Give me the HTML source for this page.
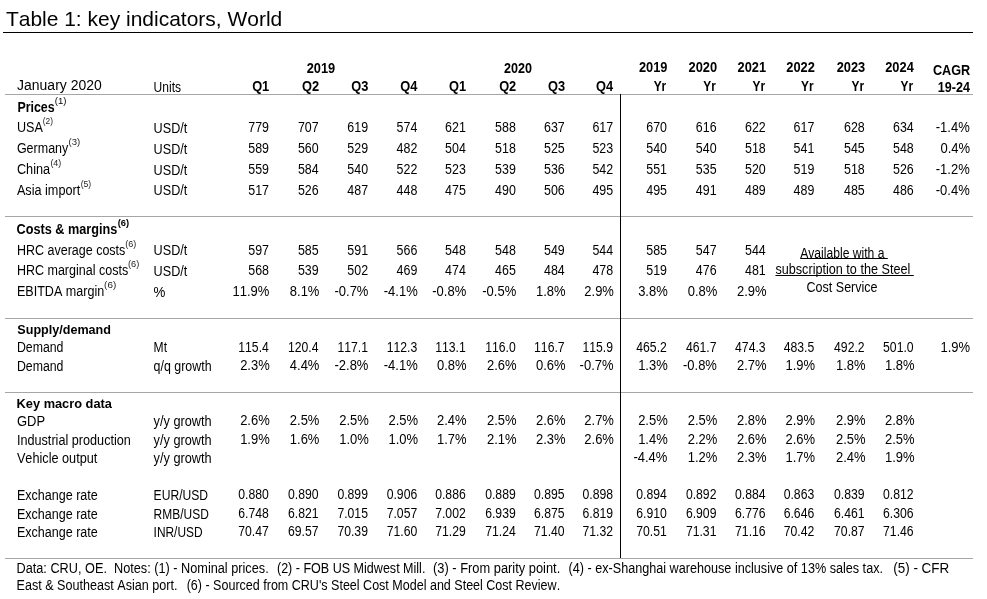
<!DOCTYPE html>
<html><head><meta charset="utf-8"><title>Table 1: key indicators, World</title>
<style>
html,body{margin:0;padding:0;background:#fff;}
body{width:987px;height:599px;overflow:hidden;font-family:"Liberation Sans",sans-serif;color:#000;}
#w{position:relative;width:987px;height:599px;overflow:hidden;will-change:transform;}
.t{position:absolute;white-space:pre;display:block;font-kerning:none;}
.l{position:absolute;}
</style></head>
<body>
<div id="w">
<div class="l" style="left:3px;top:32px;width:970px;height:1px;background:#000;"></div>
<div class="l" style="left:5px;top:94px;width:968px;height:1px;background:#a6a6a6;"></div>
<div class="l" style="left:5px;top:216px;width:968px;height:1px;background:#a6a6a6;"></div>
<div class="l" style="left:5px;top:318px;width:968px;height:1px;background:#a6a6a6;"></div>
<div class="l" style="left:5px;top:392px;width:968px;height:1px;background:#a6a6a6;"></div>
<div class="l" style="left:5px;top:558px;width:968px;height:1px;background:#a6a6a6;"></div>
<div class="l" style="left:620px;top:94px;width:1px;height:464px;background:#000;"></div>
<span class="t" style="left:5px;top:6px;font-size:20.8px;line-height:25px;transform:translateX(0.90px) scaleX(1.0087);transform-origin:0 0;">Table 1: key indicators, World</span>
<span class="t" style="left:17px;top:75px;font-size:14px;line-height:20px;transform:translateX(0.10px) scaleX(0.9970);transform-origin:0 0;">January 2020</span>
<span class="t" style="left:153px;top:77px;font-size:13.8px;line-height:21px;transform:translateX(0.60px) scaleX(0.8730);transform-origin:0 0;">Units</span>
<span class="t" style="right:718px;top:76px;font-size:13.8px;line-height:21px;font-weight:bold;transform:translateX(-0.15px) scaleX(0.9300);transform-origin:100% 0;">Q1</span>
<span class="t" style="right:668px;top:76px;font-size:13.8px;line-height:21px;font-weight:bold;transform:translateX(-0.36px) scaleX(0.9300);transform-origin:100% 0;">Q2</span>
<span class="t" style="right:618px;top:76px;font-size:13.8px;line-height:21px;font-weight:bold;transform:translateX(-0.96px) scaleX(0.9300);transform-origin:100% 0;">Q3</span>
<span class="t" style="right:570px;top:76px;font-size:13.8px;line-height:21px;font-weight:bold;transform:translateX(-0.12px) scaleX(0.9300);transform-origin:100% 0;">Q4</span>
<span class="t" style="right:521px;top:76px;font-size:13.8px;line-height:21px;font-weight:bold;transform:translateX(-0.25px) scaleX(0.9300);transform-origin:100% 0;">Q1</span>
<span class="t" style="right:471px;top:76px;font-size:13.8px;line-height:21px;font-weight:bold;transform:translateX(-0.16px) scaleX(0.9300);transform-origin:100% 0;">Q2</span>
<span class="t" style="right:422px;top:76px;font-size:13.8px;line-height:21px;font-weight:bold;transform:translateX(-0.26px) scaleX(0.9300);transform-origin:100% 0;">Q3</span>
<span class="t" style="right:374px;top:76px;font-size:13.8px;line-height:21px;font-weight:bold;transform:translateX(-0.32px) scaleX(0.9300);transform-origin:100% 0;">Q4</span>
<span class="t" style="left:306px;top:58px;font-size:13.8px;line-height:21px;font-weight:bold;transform:translateX(0.73px) scaleX(0.9288);transform-origin:0 0;">2019</span>
<span class="t" style="left:503px;top:58px;font-size:13.8px;line-height:21px;font-weight:bold;transform:translateX(0.94px) scaleX(0.9120);transform-origin:0 0;">2020</span>
<span class="t" style="right:319px;top:57px;font-size:13.8px;line-height:21px;font-weight:bold;transform:translateX(-0.26px) scaleX(0.9300);transform-origin:100% 0;">2019</span>
<span class="t" style="right:320px;top:76px;font-size:13.8px;line-height:21px;font-weight:bold;transform:translateX(-0.35px) scaleX(0.8600);transform-origin:100% 0;">Yr</span>
<span class="t" style="right:269px;top:57px;font-size:13.8px;line-height:21px;font-weight:bold;transform:translateX(-0.66px) scaleX(0.9300);transform-origin:100% 0;">2020</span>
<span class="t" style="right:270px;top:76px;font-size:13.8px;line-height:21px;font-weight:bold;transform:translateX(-0.75px) scaleX(0.8600);transform-origin:100% 0;">Yr</span>
<span class="t" style="right:220px;top:57px;font-size:13.8px;line-height:21px;font-weight:bold;transform:translateX(-0.55px) scaleX(0.9300);transform-origin:100% 0;">2021</span>
<span class="t" style="right:221px;top:76px;font-size:13.8px;line-height:21px;font-weight:bold;transform:translateX(-0.55px) scaleX(0.8600);transform-origin:100% 0;">Yr</span>
<span class="t" style="right:171px;top:57px;font-size:13.8px;line-height:21px;font-weight:bold;transform:translateX(-0.86px) scaleX(0.9300);transform-origin:100% 0;">2022</span>
<span class="t" style="right:172px;top:76px;font-size:13.8px;line-height:21px;font-weight:bold;transform:translateX(-0.95px) scaleX(0.8600);transform-origin:100% 0;">Yr</span>
<span class="t" style="right:121px;top:57px;font-size:13.8px;line-height:21px;font-weight:bold;transform:translateX(-0.46px) scaleX(0.9300);transform-origin:100% 0;">2023</span>
<span class="t" style="right:122px;top:76px;font-size:13.8px;line-height:21px;font-weight:bold;transform:translateX(-0.55px) scaleX(0.8600);transform-origin:100% 0;">Yr</span>
<span class="t" style="right:72px;top:57px;font-size:13.8px;line-height:21px;font-weight:bold;transform:translateX(-0.92px) scaleX(0.9300);transform-origin:100% 0;">2024</span>
<span class="t" style="right:73px;top:76px;font-size:13.8px;line-height:21px;font-weight:bold;transform:translateX(-0.55px) scaleX(0.8600);transform-origin:100% 0;">Yr</span>
<span class="t" style="left:932px;top:60px;font-size:13.8px;line-height:21px;font-weight:bold;transform:translateX(0.94px) scaleX(0.9181);transform-origin:0 0;">CAGR</span>
<span class="t" style="left:937px;top:77px;font-size:13.8px;line-height:21px;font-weight:bold;transform:translateX(0.77px) scaleX(0.9125);transform-origin:0 0;">19-24</span>
<span class="t" style="left:17px;top:97px;font-size:13.8px;line-height:21px;font-weight:bold;transform:translateX(0.40px) scaleX(0.8985);transform-origin:0 0;">Prices</span>
<span class="t" style="left:54px;top:95px;font-size:8.5px;line-height:12px;transform:translateX(0.84px) scaleX(1.1208);transform-origin:0 0;">(1)</span>
<span class="t" style="left:16px;top:117px;font-size:13.8px;line-height:21px;transform:translateX(0.90px) scaleX(0.9129);transform-origin:0 0;">USA</span>
<span class="t" style="left:42px;top:115px;font-size:8.5px;line-height:12px;color:#222;transform:translateX(0.81px) scaleX(0.9833);transform-origin:0 0;">(2)</span>
<span class="t" style="left:16px;top:138px;font-size:13.8px;line-height:21px;transform:translateX(0.90px) scaleX(0.9057);transform-origin:0 0;">Germany</span>
<span class="t" style="left:68px;top:136px;font-size:8.5px;line-height:12px;color:#222;transform:translateX(0.53px) scaleX(1.1313);transform-origin:0 0;">(3)</span>
<span class="t" style="left:16px;top:159px;font-size:13.8px;line-height:21px;transform:translateX(0.90px) scaleX(0.9229);transform-origin:0 0;">China</span>
<span class="t" style="left:50px;top:157px;font-size:8.5px;line-height:12px;color:#222;transform:translateX(0.38px) scaleX(1.0468);transform-origin:0 0;">(4)</span>
<span class="t" style="left:16px;top:180px;font-size:13.8px;line-height:21px;transform:translateX(0.90px) scaleX(0.9176);transform-origin:0 0;">Asia import</span>
<span class="t" style="left:80px;top:178px;font-size:8.5px;line-height:12px;color:#222;transform:translateX(0.69px) scaleX(1.0150);transform-origin:0 0;">(5)</span>
<span class="t" style="left:16px;top:219px;font-size:13.8px;line-height:21px;font-weight:bold;transform:translateX(0.60px) scaleX(0.9177);transform-origin:0 0;">Costs &amp; margins</span>
<span class="t" style="left:117px;top:217px;font-size:8.5px;line-height:12px;font-weight:bold;transform:translateX(0.76px) scaleX(1.0976);transform-origin:0 0;">(6)</span>
<span class="t" style="left:16px;top:240px;font-size:13.8px;line-height:21px;transform:translateX(0.90px) scaleX(0.9065);transform-origin:0 0;">HRC average costs</span>
<span class="t" style="left:125px;top:238px;font-size:8.5px;line-height:12px;color:#222;transform:translateX(0.27px) scaleX(1.0573);transform-origin:0 0;">(6)</span>
<span class="t" style="left:16px;top:260px;font-size:13.8px;line-height:21px;transform:translateX(0.90px) scaleX(0.9068);transform-origin:0 0;">HRC marginal costs</span>
<span class="t" style="left:127px;top:258px;font-size:8.5px;line-height:12px;color:#222;transform:translateX(0.96px) scaleX(1.0890);transform-origin:0 0;">(6)</span>
<span class="t" style="left:16px;top:281px;font-size:13.8px;line-height:21px;transform:translateX(0.90px) scaleX(0.9107);transform-origin:0 0;">EBITDA margin</span>
<span class="t" style="left:104px;top:279px;font-size:8.5px;line-height:12px;color:#222;transform:translateX(0.12px) scaleX(1.1631);transform-origin:0 0;">(6)</span>
<span class="t" style="left:17px;top:319px;font-size:12.8px;line-height:21px;font-weight:bold;transform:translateX(0.30px) scaleX(0.9833);transform-origin:0 0;">Supply/demand</span>
<span class="t" style="left:16px;top:337px;font-size:13.8px;line-height:21px;transform:translateX(0.90px) scaleX(0.8930);transform-origin:0 0;">Demand</span>
<span class="t" style="left:16px;top:356px;font-size:13.8px;line-height:21px;transform:translateX(0.90px) scaleX(0.8930);transform-origin:0 0;">Demand</span>
<span class="t" style="left:16px;top:393px;font-size:12.8px;line-height:21px;font-weight:bold;transform:translateX(0.60px) scaleX(0.9999);transform-origin:0 0;">Key macro data</span>
<span class="t" style="left:16px;top:411px;font-size:13.8px;line-height:21px;transform:translateX(0.90px) scaleX(0.9418);transform-origin:0 0;">GDP</span>
<span class="t" style="left:16px;top:430px;font-size:13.8px;line-height:21px;transform:translateX(0.90px) scaleX(0.9173);transform-origin:0 0;">Industrial production</span>
<span class="t" style="left:16px;top:448px;font-size:13.8px;line-height:21px;transform:translateX(0.90px) scaleX(0.9196);transform-origin:0 0;">Vehicle output</span>
<span class="t" style="left:16px;top:485px;font-size:13.8px;line-height:21px;transform:translateX(0.90px) scaleX(0.9093);transform-origin:0 0;">Exchange rate</span>
<span class="t" style="left:16px;top:504px;font-size:13.8px;line-height:21px;transform:translateX(0.90px) scaleX(0.9093);transform-origin:0 0;">Exchange rate</span>
<span class="t" style="left:16px;top:522px;font-size:13.8px;line-height:21px;transform:translateX(0.90px) scaleX(0.9093);transform-origin:0 0;">Exchange rate</span>
<span class="t" style="left:153px;top:118px;font-size:13.8px;line-height:21px;transform:translateX(0.60px) scaleX(0.9165);transform-origin:0 0;">USD/t</span>
<span class="t" style="left:153px;top:139px;font-size:13.8px;line-height:21px;transform:translateX(0.60px) scaleX(0.9165);transform-origin:0 0;">USD/t</span>
<span class="t" style="left:153px;top:160px;font-size:13.8px;line-height:21px;transform:translateX(0.60px) scaleX(0.9165);transform-origin:0 0;">USD/t</span>
<span class="t" style="left:153px;top:180px;font-size:13.8px;line-height:21px;transform:translateX(0.60px) scaleX(0.9165);transform-origin:0 0;">USD/t</span>
<span class="t" style="left:153px;top:240px;font-size:13.8px;line-height:21px;transform:translateX(0.60px) scaleX(0.9165);transform-origin:0 0;">USD/t</span>
<span class="t" style="left:153px;top:261px;font-size:13.8px;line-height:21px;transform:translateX(0.60px) scaleX(0.9165);transform-origin:0 0;">USD/t</span>
<span class="t" style="left:153px;top:282px;font-size:13.8px;line-height:21px;transform:translateX(0.60px) scaleX(0.9661);transform-origin:0 0;">%</span>
<span class="t" style="left:153px;top:337px;font-size:13.8px;line-height:21px;transform:translateX(0.60px) scaleX(0.8761);transform-origin:0 0;">Mt</span>
<span class="t" style="left:153px;top:356px;font-size:13.8px;line-height:21px;transform:translateX(0.60px) scaleX(0.8999);transform-origin:0 0;">q/q growth</span>
<span class="t" style="left:153px;top:411px;font-size:13.8px;line-height:21px;transform:translateX(0.60px) scaleX(0.9224);transform-origin:0 0;">y/y growth</span>
<span class="t" style="left:153px;top:430px;font-size:13.8px;line-height:21px;transform:translateX(0.60px) scaleX(0.9224);transform-origin:0 0;">y/y growth</span>
<span class="t" style="left:153px;top:448px;font-size:13.8px;line-height:21px;transform:translateX(0.60px) scaleX(0.9224);transform-origin:0 0;">y/y growth</span>
<span class="t" style="left:153px;top:485px;font-size:13.8px;line-height:21px;transform:translateX(0.60px) scaleX(0.8775);transform-origin:0 0;">EUR/USD</span>
<span class="t" style="left:153px;top:504px;font-size:13.8px;line-height:21px;transform:translateX(0.60px) scaleX(0.8673);transform-origin:0 0;">RMB/USD</span>
<span class="t" style="left:153px;top:522px;font-size:13.8px;line-height:21px;transform:translateX(0.60px) scaleX(0.8634);transform-origin:0 0;">INR/USD</span>
<span class="t" style="right:718px;top:117px;font-size:13.8px;line-height:21px;transform:translateX(-0.08px) scaleX(0.9000);transform-origin:100% 0;">779</span>
<span class="t" style="right:668px;top:117px;font-size:13.8px;line-height:21px;transform:translateX(-0.38px) scaleX(0.9000);transform-origin:100% 0;">707</span>
<span class="t" style="right:618px;top:117px;font-size:13.8px;line-height:21px;transform:translateX(-0.98px) scaleX(0.9000);transform-origin:100% 0;">619</span>
<span class="t" style="right:569px;top:117px;font-size:13.8px;line-height:21px;transform:translateX(-0.68px) scaleX(0.9000);transform-origin:100% 0;">574</span>
<span class="t" style="right:521px;top:117px;font-size:13.8px;line-height:21px;transform:translateX(-0.18px) scaleX(0.9000);transform-origin:100% 0;">621</span>
<span class="t" style="right:471px;top:117px;font-size:13.8px;line-height:21px;transform:translateX(-0.18px) scaleX(0.9000);transform-origin:100% 0;">588</span>
<span class="t" style="right:422px;top:117px;font-size:13.8px;line-height:21px;transform:translateX(-0.28px) scaleX(0.9000);transform-origin:100% 0;">637</span>
<span class="t" style="right:373px;top:117px;font-size:13.8px;line-height:21px;transform:translateX(-0.88px) scaleX(0.9000);transform-origin:100% 0;">617</span>
<span class="t" style="right:320px;top:117px;font-size:13.8px;line-height:21px;transform:translateX(-0.08px) scaleX(0.9000);transform-origin:100% 0;">670</span>
<span class="t" style="right:270px;top:117px;font-size:13.8px;line-height:21px;transform:translateX(-0.48px) scaleX(0.9000);transform-origin:100% 0;">616</span>
<span class="t" style="right:221px;top:117px;font-size:13.8px;line-height:21px;transform:translateX(-0.28px) scaleX(0.9000);transform-origin:100% 0;">622</span>
<span class="t" style="right:172px;top:117px;font-size:13.8px;line-height:21px;transform:translateX(-0.68px) scaleX(0.9000);transform-origin:100% 0;">617</span>
<span class="t" style="right:122px;top:117px;font-size:13.8px;line-height:21px;transform:translateX(-0.28px) scaleX(0.9000);transform-origin:100% 0;">628</span>
<span class="t" style="right:73px;top:117px;font-size:13.8px;line-height:21px;transform:translateX(-0.28px) scaleX(0.9000);transform-origin:100% 0;">634</span>
<span class="t" style="right:17px;top:117px;font-size:13.8px;line-height:21px;transform:translateX(-0.36px) scaleX(0.9400);transform-origin:100% 0;">-1.4%</span>
<span class="t" style="right:718px;top:138px;font-size:13.8px;line-height:21px;transform:translateX(-0.08px) scaleX(0.9000);transform-origin:100% 0;">589</span>
<span class="t" style="right:668px;top:138px;font-size:13.8px;line-height:21px;transform:translateX(-0.38px) scaleX(0.9000);transform-origin:100% 0;">560</span>
<span class="t" style="right:618px;top:138px;font-size:13.8px;line-height:21px;transform:translateX(-0.98px) scaleX(0.9000);transform-origin:100% 0;">529</span>
<span class="t" style="right:569px;top:138px;font-size:13.8px;line-height:21px;transform:translateX(-0.68px) scaleX(0.9000);transform-origin:100% 0;">482</span>
<span class="t" style="right:521px;top:138px;font-size:13.8px;line-height:21px;transform:translateX(-0.18px) scaleX(0.9000);transform-origin:100% 0;">504</span>
<span class="t" style="right:471px;top:138px;font-size:13.8px;line-height:21px;transform:translateX(-0.18px) scaleX(0.9000);transform-origin:100% 0;">518</span>
<span class="t" style="right:422px;top:138px;font-size:13.8px;line-height:21px;transform:translateX(-0.28px) scaleX(0.9000);transform-origin:100% 0;">525</span>
<span class="t" style="right:373px;top:138px;font-size:13.8px;line-height:21px;transform:translateX(-0.88px) scaleX(0.9000);transform-origin:100% 0;">523</span>
<span class="t" style="right:320px;top:138px;font-size:13.8px;line-height:21px;transform:translateX(-0.08px) scaleX(0.9000);transform-origin:100% 0;">540</span>
<span class="t" style="right:270px;top:138px;font-size:13.8px;line-height:21px;transform:translateX(-0.48px) scaleX(0.9000);transform-origin:100% 0;">540</span>
<span class="t" style="right:221px;top:138px;font-size:13.8px;line-height:21px;transform:translateX(-0.28px) scaleX(0.9000);transform-origin:100% 0;">518</span>
<span class="t" style="right:172px;top:138px;font-size:13.8px;line-height:21px;transform:translateX(-0.68px) scaleX(0.9000);transform-origin:100% 0;">541</span>
<span class="t" style="right:122px;top:138px;font-size:13.8px;line-height:21px;transform:translateX(-0.28px) scaleX(0.9000);transform-origin:100% 0;">545</span>
<span class="t" style="right:73px;top:138px;font-size:13.8px;line-height:21px;transform:translateX(-0.28px) scaleX(0.9000);transform-origin:100% 0;">548</span>
<span class="t" style="right:17px;top:138px;font-size:13.8px;line-height:21px;transform:translateX(-0.36px) scaleX(0.9400);transform-origin:100% 0;">0.4%</span>
<span class="t" style="right:718px;top:159px;font-size:13.8px;line-height:21px;transform:translateX(-0.08px) scaleX(0.9000);transform-origin:100% 0;">559</span>
<span class="t" style="right:668px;top:159px;font-size:13.8px;line-height:21px;transform:translateX(-0.38px) scaleX(0.9000);transform-origin:100% 0;">584</span>
<span class="t" style="right:618px;top:159px;font-size:13.8px;line-height:21px;transform:translateX(-0.98px) scaleX(0.9000);transform-origin:100% 0;">540</span>
<span class="t" style="right:569px;top:159px;font-size:13.8px;line-height:21px;transform:translateX(-0.68px) scaleX(0.9000);transform-origin:100% 0;">522</span>
<span class="t" style="right:521px;top:159px;font-size:13.8px;line-height:21px;transform:translateX(-0.18px) scaleX(0.9000);transform-origin:100% 0;">523</span>
<span class="t" style="right:471px;top:159px;font-size:13.8px;line-height:21px;transform:translateX(-0.18px) scaleX(0.9000);transform-origin:100% 0;">539</span>
<span class="t" style="right:422px;top:159px;font-size:13.8px;line-height:21px;transform:translateX(-0.28px) scaleX(0.9000);transform-origin:100% 0;">536</span>
<span class="t" style="right:373px;top:159px;font-size:13.8px;line-height:21px;transform:translateX(-0.88px) scaleX(0.9000);transform-origin:100% 0;">542</span>
<span class="t" style="right:320px;top:159px;font-size:13.8px;line-height:21px;transform:translateX(-0.08px) scaleX(0.9000);transform-origin:100% 0;">551</span>
<span class="t" style="right:270px;top:159px;font-size:13.8px;line-height:21px;transform:translateX(-0.48px) scaleX(0.9000);transform-origin:100% 0;">535</span>
<span class="t" style="right:221px;top:159px;font-size:13.8px;line-height:21px;transform:translateX(-0.28px) scaleX(0.9000);transform-origin:100% 0;">520</span>
<span class="t" style="right:172px;top:159px;font-size:13.8px;line-height:21px;transform:translateX(-0.68px) scaleX(0.9000);transform-origin:100% 0;">519</span>
<span class="t" style="right:122px;top:159px;font-size:13.8px;line-height:21px;transform:translateX(-0.28px) scaleX(0.9000);transform-origin:100% 0;">518</span>
<span class="t" style="right:73px;top:159px;font-size:13.8px;line-height:21px;transform:translateX(-0.28px) scaleX(0.9000);transform-origin:100% 0;">526</span>
<span class="t" style="right:17px;top:159px;font-size:13.8px;line-height:21px;transform:translateX(-0.36px) scaleX(0.9400);transform-origin:100% 0;">-1.2%</span>
<span class="t" style="right:718px;top:180px;font-size:13.8px;line-height:21px;transform:translateX(-0.08px) scaleX(0.9000);transform-origin:100% 0;">517</span>
<span class="t" style="right:668px;top:180px;font-size:13.8px;line-height:21px;transform:translateX(-0.38px) scaleX(0.9000);transform-origin:100% 0;">526</span>
<span class="t" style="right:618px;top:180px;font-size:13.8px;line-height:21px;transform:translateX(-0.98px) scaleX(0.9000);transform-origin:100% 0;">487</span>
<span class="t" style="right:569px;top:180px;font-size:13.8px;line-height:21px;transform:translateX(-0.68px) scaleX(0.9000);transform-origin:100% 0;">448</span>
<span class="t" style="right:521px;top:180px;font-size:13.8px;line-height:21px;transform:translateX(-0.18px) scaleX(0.9000);transform-origin:100% 0;">475</span>
<span class="t" style="right:471px;top:180px;font-size:13.8px;line-height:21px;transform:translateX(-0.18px) scaleX(0.9000);transform-origin:100% 0;">490</span>
<span class="t" style="right:422px;top:180px;font-size:13.8px;line-height:21px;transform:translateX(-0.28px) scaleX(0.9000);transform-origin:100% 0;">506</span>
<span class="t" style="right:373px;top:180px;font-size:13.8px;line-height:21px;transform:translateX(-0.88px) scaleX(0.9000);transform-origin:100% 0;">495</span>
<span class="t" style="right:320px;top:180px;font-size:13.8px;line-height:21px;transform:translateX(-0.08px) scaleX(0.9000);transform-origin:100% 0;">495</span>
<span class="t" style="right:270px;top:180px;font-size:13.8px;line-height:21px;transform:translateX(-0.48px) scaleX(0.9000);transform-origin:100% 0;">491</span>
<span class="t" style="right:221px;top:180px;font-size:13.8px;line-height:21px;transform:translateX(-0.28px) scaleX(0.9000);transform-origin:100% 0;">489</span>
<span class="t" style="right:172px;top:180px;font-size:13.8px;line-height:21px;transform:translateX(-0.68px) scaleX(0.9000);transform-origin:100% 0;">489</span>
<span class="t" style="right:122px;top:180px;font-size:13.8px;line-height:21px;transform:translateX(-0.28px) scaleX(0.9000);transform-origin:100% 0;">485</span>
<span class="t" style="right:73px;top:180px;font-size:13.8px;line-height:21px;transform:translateX(-0.28px) scaleX(0.9000);transform-origin:100% 0;">486</span>
<span class="t" style="right:17px;top:180px;font-size:13.8px;line-height:21px;transform:translateX(-0.36px) scaleX(0.9400);transform-origin:100% 0;">-0.4%</span>
<span class="t" style="right:718px;top:240px;font-size:13.8px;line-height:21px;transform:translateX(-0.08px) scaleX(0.9000);transform-origin:100% 0;">597</span>
<span class="t" style="right:668px;top:240px;font-size:13.8px;line-height:21px;transform:translateX(-0.38px) scaleX(0.9000);transform-origin:100% 0;">585</span>
<span class="t" style="right:618px;top:240px;font-size:13.8px;line-height:21px;transform:translateX(-0.98px) scaleX(0.9000);transform-origin:100% 0;">591</span>
<span class="t" style="right:569px;top:240px;font-size:13.8px;line-height:21px;transform:translateX(-0.68px) scaleX(0.9000);transform-origin:100% 0;">566</span>
<span class="t" style="right:521px;top:240px;font-size:13.8px;line-height:21px;transform:translateX(-0.18px) scaleX(0.9000);transform-origin:100% 0;">548</span>
<span class="t" style="right:471px;top:240px;font-size:13.8px;line-height:21px;transform:translateX(-0.18px) scaleX(0.9000);transform-origin:100% 0;">548</span>
<span class="t" style="right:422px;top:240px;font-size:13.8px;line-height:21px;transform:translateX(-0.28px) scaleX(0.9000);transform-origin:100% 0;">549</span>
<span class="t" style="right:373px;top:240px;font-size:13.8px;line-height:21px;transform:translateX(-0.88px) scaleX(0.9000);transform-origin:100% 0;">544</span>
<span class="t" style="right:320px;top:240px;font-size:13.8px;line-height:21px;transform:translateX(-0.08px) scaleX(0.9000);transform-origin:100% 0;">585</span>
<span class="t" style="right:270px;top:240px;font-size:13.8px;line-height:21px;transform:translateX(-0.48px) scaleX(0.9000);transform-origin:100% 0;">547</span>
<span class="t" style="right:221px;top:240px;font-size:13.8px;line-height:21px;transform:translateX(-0.28px) scaleX(0.9000);transform-origin:100% 0;">544</span>
<span class="t" style="right:718px;top:260px;font-size:13.8px;line-height:21px;transform:translateX(-0.08px) scaleX(0.9000);transform-origin:100% 0;">568</span>
<span class="t" style="right:668px;top:260px;font-size:13.8px;line-height:21px;transform:translateX(-0.38px) scaleX(0.9000);transform-origin:100% 0;">539</span>
<span class="t" style="right:618px;top:260px;font-size:13.8px;line-height:21px;transform:translateX(-0.98px) scaleX(0.9000);transform-origin:100% 0;">502</span>
<span class="t" style="right:569px;top:260px;font-size:13.8px;line-height:21px;transform:translateX(-0.68px) scaleX(0.9000);transform-origin:100% 0;">469</span>
<span class="t" style="right:521px;top:260px;font-size:13.8px;line-height:21px;transform:translateX(-0.18px) scaleX(0.9000);transform-origin:100% 0;">474</span>
<span class="t" style="right:471px;top:260px;font-size:13.8px;line-height:21px;transform:translateX(-0.18px) scaleX(0.9000);transform-origin:100% 0;">465</span>
<span class="t" style="right:422px;top:260px;font-size:13.8px;line-height:21px;transform:translateX(-0.28px) scaleX(0.9000);transform-origin:100% 0;">484</span>
<span class="t" style="right:373px;top:260px;font-size:13.8px;line-height:21px;transform:translateX(-0.88px) scaleX(0.9000);transform-origin:100% 0;">478</span>
<span class="t" style="right:320px;top:260px;font-size:13.8px;line-height:21px;transform:translateX(-0.08px) scaleX(0.9000);transform-origin:100% 0;">519</span>
<span class="t" style="right:270px;top:260px;font-size:13.8px;line-height:21px;transform:translateX(-0.48px) scaleX(0.9000);transform-origin:100% 0;">476</span>
<span class="t" style="right:221px;top:260px;font-size:13.8px;line-height:21px;transform:translateX(-0.28px) scaleX(0.9000);transform-origin:100% 0;">481</span>
<span class="t" style="right:717px;top:281px;font-size:13.8px;line-height:21px;transform:translateX(-0.76px) scaleX(0.9400);transform-origin:100% 0;">11.9%</span>
<span class="t" style="right:668px;top:281px;font-size:13.8px;line-height:21px;transform:translateX(-0.06px) scaleX(0.9400);transform-origin:100% 0;">8.1%</span>
<span class="t" style="right:618px;top:281px;font-size:13.8px;line-height:21px;transform:translateX(-0.66px) scaleX(0.9400);transform-origin:100% 0;">-0.7%</span>
<span class="t" style="right:569px;top:281px;font-size:13.8px;line-height:21px;transform:translateX(-0.36px) scaleX(0.9400);transform-origin:100% 0;">-4.1%</span>
<span class="t" style="right:520px;top:281px;font-size:13.8px;line-height:21px;transform:translateX(-0.86px) scaleX(0.9400);transform-origin:100% 0;">-0.8%</span>
<span class="t" style="right:470px;top:281px;font-size:13.8px;line-height:21px;transform:translateX(-0.86px) scaleX(0.9400);transform-origin:100% 0;">-0.5%</span>
<span class="t" style="right:421px;top:281px;font-size:13.8px;line-height:21px;transform:translateX(-0.96px) scaleX(0.9400);transform-origin:100% 0;">1.8%</span>
<span class="t" style="right:373px;top:281px;font-size:13.8px;line-height:21px;transform:translateX(-0.56px) scaleX(0.9400);transform-origin:100% 0;">2.9%</span>
<span class="t" style="right:319px;top:281px;font-size:13.8px;line-height:21px;transform:translateX(-0.76px) scaleX(0.9400);transform-origin:100% 0;">3.8%</span>
<span class="t" style="right:270px;top:281px;font-size:13.8px;line-height:21px;transform:translateX(-0.16px) scaleX(0.9400);transform-origin:100% 0;">0.8%</span>
<span class="t" style="right:220px;top:281px;font-size:13.8px;line-height:21px;transform:translateX(-0.96px) scaleX(0.9400);transform-origin:100% 0;">2.9%</span>
<span class="t" style="right:717px;top:337px;font-size:13.8px;line-height:21px;transform:translateX(-0.69px) scaleX(0.8850);transform-origin:100% 0;">115.4</span>
<span class="t" style="right:667px;top:337px;font-size:13.8px;line-height:21px;transform:translateX(-0.99px) scaleX(0.8850);transform-origin:100% 0;">120.4</span>
<span class="t" style="right:618px;top:337px;font-size:13.8px;line-height:21px;transform:translateX(-0.59px) scaleX(0.8850);transform-origin:100% 0;">117.1</span>
<span class="t" style="right:569px;top:337px;font-size:13.8px;line-height:21px;transform:translateX(-0.29px) scaleX(0.8850);transform-origin:100% 0;">112.3</span>
<span class="t" style="right:520px;top:337px;font-size:13.8px;line-height:21px;transform:translateX(-0.79px) scaleX(0.8850);transform-origin:100% 0;">113.1</span>
<span class="t" style="right:470px;top:337px;font-size:13.8px;line-height:21px;transform:translateX(-0.79px) scaleX(0.8850);transform-origin:100% 0;">116.0</span>
<span class="t" style="right:421px;top:337px;font-size:13.8px;line-height:21px;transform:translateX(-0.89px) scaleX(0.8850);transform-origin:100% 0;">116.7</span>
<span class="t" style="right:373px;top:337px;font-size:13.8px;line-height:21px;transform:translateX(-0.49px) scaleX(0.8850);transform-origin:100% 0;">115.9</span>
<span class="t" style="right:319px;top:337px;font-size:13.8px;line-height:21px;transform:translateX(-0.69px) scaleX(0.8850);transform-origin:100% 0;">465.2</span>
<span class="t" style="right:270px;top:337px;font-size:13.8px;line-height:21px;transform:translateX(-0.09px) scaleX(0.8850);transform-origin:100% 0;">461.7</span>
<span class="t" style="right:220px;top:337px;font-size:13.8px;line-height:21px;transform:translateX(-0.89px) scaleX(0.8850);transform-origin:100% 0;">474.3</span>
<span class="t" style="right:172px;top:337px;font-size:13.8px;line-height:21px;transform:translateX(-0.29px) scaleX(0.8850);transform-origin:100% 0;">483.5</span>
<span class="t" style="right:121px;top:337px;font-size:13.8px;line-height:21px;transform:translateX(-0.89px) scaleX(0.8850);transform-origin:100% 0;">492.2</span>
<span class="t" style="right:72px;top:337px;font-size:13.8px;line-height:21px;transform:translateX(-0.89px) scaleX(0.8850);transform-origin:100% 0;">501.0</span>
<span class="t" style="right:17px;top:337px;font-size:13.8px;line-height:21px;transform:translateX(-0.36px) scaleX(0.9400);transform-origin:100% 0;">1.9%</span>
<span class="t" style="right:717px;top:355px;font-size:13.8px;line-height:21px;transform:translateX(-0.76px) scaleX(0.9400);transform-origin:100% 0;">2.3%</span>
<span class="t" style="right:668px;top:355px;font-size:13.8px;line-height:21px;transform:translateX(-0.06px) scaleX(0.9400);transform-origin:100% 0;">4.4%</span>
<span class="t" style="right:618px;top:355px;font-size:13.8px;line-height:21px;transform:translateX(-0.66px) scaleX(0.9400);transform-origin:100% 0;">-2.8%</span>
<span class="t" style="right:569px;top:355px;font-size:13.8px;line-height:21px;transform:translateX(-0.36px) scaleX(0.9400);transform-origin:100% 0;">-4.1%</span>
<span class="t" style="right:520px;top:355px;font-size:13.8px;line-height:21px;transform:translateX(-0.86px) scaleX(0.9400);transform-origin:100% 0;">0.8%</span>
<span class="t" style="right:470px;top:355px;font-size:13.8px;line-height:21px;transform:translateX(-0.86px) scaleX(0.9400);transform-origin:100% 0;">2.6%</span>
<span class="t" style="right:421px;top:355px;font-size:13.8px;line-height:21px;transform:translateX(-0.96px) scaleX(0.9400);transform-origin:100% 0;">0.6%</span>
<span class="t" style="right:373px;top:355px;font-size:13.8px;line-height:21px;transform:translateX(-0.56px) scaleX(0.9400);transform-origin:100% 0;">-0.7%</span>
<span class="t" style="right:319px;top:355px;font-size:13.8px;line-height:21px;transform:translateX(-0.76px) scaleX(0.9400);transform-origin:100% 0;">1.3%</span>
<span class="t" style="right:270px;top:355px;font-size:13.8px;line-height:21px;transform:translateX(-0.16px) scaleX(0.9400);transform-origin:100% 0;">-0.8%</span>
<span class="t" style="right:220px;top:355px;font-size:13.8px;line-height:21px;transform:translateX(-0.96px) scaleX(0.9400);transform-origin:100% 0;">2.7%</span>
<span class="t" style="right:172px;top:355px;font-size:13.8px;line-height:21px;transform:translateX(-0.36px) scaleX(0.9400);transform-origin:100% 0;">1.9%</span>
<span class="t" style="right:121px;top:355px;font-size:13.8px;line-height:21px;transform:translateX(-0.96px) scaleX(0.9400);transform-origin:100% 0;">1.8%</span>
<span class="t" style="right:72px;top:355px;font-size:13.8px;line-height:21px;transform:translateX(-0.96px) scaleX(0.9400);transform-origin:100% 0;">1.8%</span>
<span class="t" style="right:717px;top:410px;font-size:13.8px;line-height:21px;transform:translateX(-0.76px) scaleX(0.9400);transform-origin:100% 0;">2.6%</span>
<span class="t" style="right:668px;top:410px;font-size:13.8px;line-height:21px;transform:translateX(-0.06px) scaleX(0.9400);transform-origin:100% 0;">2.5%</span>
<span class="t" style="right:618px;top:410px;font-size:13.8px;line-height:21px;transform:translateX(-0.66px) scaleX(0.9400);transform-origin:100% 0;">2.5%</span>
<span class="t" style="right:569px;top:410px;font-size:13.8px;line-height:21px;transform:translateX(-0.36px) scaleX(0.9400);transform-origin:100% 0;">2.5%</span>
<span class="t" style="right:520px;top:410px;font-size:13.8px;line-height:21px;transform:translateX(-0.86px) scaleX(0.9400);transform-origin:100% 0;">2.4%</span>
<span class="t" style="right:470px;top:410px;font-size:13.8px;line-height:21px;transform:translateX(-0.86px) scaleX(0.9400);transform-origin:100% 0;">2.5%</span>
<span class="t" style="right:421px;top:410px;font-size:13.8px;line-height:21px;transform:translateX(-0.96px) scaleX(0.9400);transform-origin:100% 0;">2.6%</span>
<span class="t" style="right:373px;top:410px;font-size:13.8px;line-height:21px;transform:translateX(-0.56px) scaleX(0.9400);transform-origin:100% 0;">2.7%</span>
<span class="t" style="right:319px;top:410px;font-size:13.8px;line-height:21px;transform:translateX(-0.76px) scaleX(0.9400);transform-origin:100% 0;">2.5%</span>
<span class="t" style="right:270px;top:410px;font-size:13.8px;line-height:21px;transform:translateX(-0.16px) scaleX(0.9400);transform-origin:100% 0;">2.5%</span>
<span class="t" style="right:220px;top:410px;font-size:13.8px;line-height:21px;transform:translateX(-0.96px) scaleX(0.9400);transform-origin:100% 0;">2.8%</span>
<span class="t" style="right:172px;top:410px;font-size:13.8px;line-height:21px;transform:translateX(-0.36px) scaleX(0.9400);transform-origin:100% 0;">2.9%</span>
<span class="t" style="right:121px;top:410px;font-size:13.8px;line-height:21px;transform:translateX(-0.96px) scaleX(0.9400);transform-origin:100% 0;">2.9%</span>
<span class="t" style="right:72px;top:410px;font-size:13.8px;line-height:21px;transform:translateX(-0.96px) scaleX(0.9400);transform-origin:100% 0;">2.8%</span>
<span class="t" style="right:717px;top:429px;font-size:13.8px;line-height:21px;transform:translateX(-0.76px) scaleX(0.9400);transform-origin:100% 0;">1.9%</span>
<span class="t" style="right:668px;top:429px;font-size:13.8px;line-height:21px;transform:translateX(-0.06px) scaleX(0.9400);transform-origin:100% 0;">1.6%</span>
<span class="t" style="right:618px;top:429px;font-size:13.8px;line-height:21px;transform:translateX(-0.66px) scaleX(0.9400);transform-origin:100% 0;">1.0%</span>
<span class="t" style="right:569px;top:429px;font-size:13.8px;line-height:21px;transform:translateX(-0.36px) scaleX(0.9400);transform-origin:100% 0;">1.0%</span>
<span class="t" style="right:520px;top:429px;font-size:13.8px;line-height:21px;transform:translateX(-0.86px) scaleX(0.9400);transform-origin:100% 0;">1.7%</span>
<span class="t" style="right:470px;top:429px;font-size:13.8px;line-height:21px;transform:translateX(-0.86px) scaleX(0.9400);transform-origin:100% 0;">2.1%</span>
<span class="t" style="right:421px;top:429px;font-size:13.8px;line-height:21px;transform:translateX(-0.96px) scaleX(0.9400);transform-origin:100% 0;">2.3%</span>
<span class="t" style="right:373px;top:429px;font-size:13.8px;line-height:21px;transform:translateX(-0.56px) scaleX(0.9400);transform-origin:100% 0;">2.6%</span>
<span class="t" style="right:319px;top:429px;font-size:13.8px;line-height:21px;transform:translateX(-0.76px) scaleX(0.9400);transform-origin:100% 0;">1.4%</span>
<span class="t" style="right:270px;top:429px;font-size:13.8px;line-height:21px;transform:translateX(-0.16px) scaleX(0.9400);transform-origin:100% 0;">2.2%</span>
<span class="t" style="right:220px;top:429px;font-size:13.8px;line-height:21px;transform:translateX(-0.96px) scaleX(0.9400);transform-origin:100% 0;">2.6%</span>
<span class="t" style="right:172px;top:429px;font-size:13.8px;line-height:21px;transform:translateX(-0.36px) scaleX(0.9400);transform-origin:100% 0;">2.6%</span>
<span class="t" style="right:121px;top:429px;font-size:13.8px;line-height:21px;transform:translateX(-0.96px) scaleX(0.9400);transform-origin:100% 0;">2.5%</span>
<span class="t" style="right:72px;top:429px;font-size:13.8px;line-height:21px;transform:translateX(-0.96px) scaleX(0.9400);transform-origin:100% 0;">2.5%</span>
<span class="t" style="right:319px;top:447px;font-size:13.8px;line-height:21px;transform:translateX(-0.76px) scaleX(0.9400);transform-origin:100% 0;">-4.4%</span>
<span class="t" style="right:270px;top:447px;font-size:13.8px;line-height:21px;transform:translateX(-0.16px) scaleX(0.9400);transform-origin:100% 0;">1.2%</span>
<span class="t" style="right:220px;top:447px;font-size:13.8px;line-height:21px;transform:translateX(-0.96px) scaleX(0.9400);transform-origin:100% 0;">2.3%</span>
<span class="t" style="right:172px;top:447px;font-size:13.8px;line-height:21px;transform:translateX(-0.36px) scaleX(0.9400);transform-origin:100% 0;">1.7%</span>
<span class="t" style="right:121px;top:447px;font-size:13.8px;line-height:21px;transform:translateX(-0.96px) scaleX(0.9400);transform-origin:100% 0;">2.4%</span>
<span class="t" style="right:72px;top:447px;font-size:13.8px;line-height:21px;transform:translateX(-0.96px) scaleX(0.9400);transform-origin:100% 0;">1.9%</span>
<span class="t" style="right:717px;top:484px;font-size:13.8px;line-height:21px;transform:translateX(-0.69px) scaleX(0.8850);transform-origin:100% 0;">0.880</span>
<span class="t" style="right:667px;top:484px;font-size:13.8px;line-height:21px;transform:translateX(-0.99px) scaleX(0.8850);transform-origin:100% 0;">0.890</span>
<span class="t" style="right:618px;top:484px;font-size:13.8px;line-height:21px;transform:translateX(-0.59px) scaleX(0.8850);transform-origin:100% 0;">0.899</span>
<span class="t" style="right:569px;top:484px;font-size:13.8px;line-height:21px;transform:translateX(-0.29px) scaleX(0.8850);transform-origin:100% 0;">0.906</span>
<span class="t" style="right:520px;top:484px;font-size:13.8px;line-height:21px;transform:translateX(-0.79px) scaleX(0.8850);transform-origin:100% 0;">0.886</span>
<span class="t" style="right:470px;top:484px;font-size:13.8px;line-height:21px;transform:translateX(-0.79px) scaleX(0.8850);transform-origin:100% 0;">0.889</span>
<span class="t" style="right:421px;top:484px;font-size:13.8px;line-height:21px;transform:translateX(-0.89px) scaleX(0.8850);transform-origin:100% 0;">0.895</span>
<span class="t" style="right:373px;top:484px;font-size:13.8px;line-height:21px;transform:translateX(-0.49px) scaleX(0.8850);transform-origin:100% 0;">0.898</span>
<span class="t" style="right:319px;top:484px;font-size:13.8px;line-height:21px;transform:translateX(-0.69px) scaleX(0.8850);transform-origin:100% 0;">0.894</span>
<span class="t" style="right:270px;top:484px;font-size:13.8px;line-height:21px;transform:translateX(-0.09px) scaleX(0.8850);transform-origin:100% 0;">0.892</span>
<span class="t" style="right:220px;top:484px;font-size:13.8px;line-height:21px;transform:translateX(-0.89px) scaleX(0.8850);transform-origin:100% 0;">0.884</span>
<span class="t" style="right:172px;top:484px;font-size:13.8px;line-height:21px;transform:translateX(-0.29px) scaleX(0.8850);transform-origin:100% 0;">0.863</span>
<span class="t" style="right:121px;top:484px;font-size:13.8px;line-height:21px;transform:translateX(-0.89px) scaleX(0.8850);transform-origin:100% 0;">0.839</span>
<span class="t" style="right:72px;top:484px;font-size:13.8px;line-height:21px;transform:translateX(-0.89px) scaleX(0.8850);transform-origin:100% 0;">0.812</span>
<span class="t" style="right:717px;top:503px;font-size:13.8px;line-height:21px;transform:translateX(-0.69px) scaleX(0.8850);transform-origin:100% 0;">6.748</span>
<span class="t" style="right:667px;top:503px;font-size:13.8px;line-height:21px;transform:translateX(-0.99px) scaleX(0.8850);transform-origin:100% 0;">6.821</span>
<span class="t" style="right:618px;top:503px;font-size:13.8px;line-height:21px;transform:translateX(-0.59px) scaleX(0.8850);transform-origin:100% 0;">7.015</span>
<span class="t" style="right:569px;top:503px;font-size:13.8px;line-height:21px;transform:translateX(-0.29px) scaleX(0.8850);transform-origin:100% 0;">7.057</span>
<span class="t" style="right:520px;top:503px;font-size:13.8px;line-height:21px;transform:translateX(-0.79px) scaleX(0.8850);transform-origin:100% 0;">7.002</span>
<span class="t" style="right:470px;top:503px;font-size:13.8px;line-height:21px;transform:translateX(-0.79px) scaleX(0.8850);transform-origin:100% 0;">6.939</span>
<span class="t" style="right:421px;top:503px;font-size:13.8px;line-height:21px;transform:translateX(-0.89px) scaleX(0.8850);transform-origin:100% 0;">6.875</span>
<span class="t" style="right:373px;top:503px;font-size:13.8px;line-height:21px;transform:translateX(-0.49px) scaleX(0.8850);transform-origin:100% 0;">6.819</span>
<span class="t" style="right:319px;top:503px;font-size:13.8px;line-height:21px;transform:translateX(-0.69px) scaleX(0.8850);transform-origin:100% 0;">6.910</span>
<span class="t" style="right:270px;top:503px;font-size:13.8px;line-height:21px;transform:translateX(-0.09px) scaleX(0.8850);transform-origin:100% 0;">6.909</span>
<span class="t" style="right:220px;top:503px;font-size:13.8px;line-height:21px;transform:translateX(-0.89px) scaleX(0.8850);transform-origin:100% 0;">6.776</span>
<span class="t" style="right:172px;top:503px;font-size:13.8px;line-height:21px;transform:translateX(-0.29px) scaleX(0.8850);transform-origin:100% 0;">6.646</span>
<span class="t" style="right:121px;top:503px;font-size:13.8px;line-height:21px;transform:translateX(-0.89px) scaleX(0.8850);transform-origin:100% 0;">6.461</span>
<span class="t" style="right:72px;top:503px;font-size:13.8px;line-height:21px;transform:translateX(-0.89px) scaleX(0.8850);transform-origin:100% 0;">6.306</span>
<span class="t" style="right:717px;top:521px;font-size:13.8px;line-height:21px;transform:translateX(-0.69px) scaleX(0.8850);transform-origin:100% 0;">70.47</span>
<span class="t" style="right:667px;top:521px;font-size:13.8px;line-height:21px;transform:translateX(-0.99px) scaleX(0.8850);transform-origin:100% 0;">69.57</span>
<span class="t" style="right:618px;top:521px;font-size:13.8px;line-height:21px;transform:translateX(-0.59px) scaleX(0.8850);transform-origin:100% 0;">70.39</span>
<span class="t" style="right:569px;top:521px;font-size:13.8px;line-height:21px;transform:translateX(-0.29px) scaleX(0.8850);transform-origin:100% 0;">71.60</span>
<span class="t" style="right:520px;top:521px;font-size:13.8px;line-height:21px;transform:translateX(-0.79px) scaleX(0.8850);transform-origin:100% 0;">71.29</span>
<span class="t" style="right:470px;top:521px;font-size:13.8px;line-height:21px;transform:translateX(-0.79px) scaleX(0.8850);transform-origin:100% 0;">71.24</span>
<span class="t" style="right:421px;top:521px;font-size:13.8px;line-height:21px;transform:translateX(-0.89px) scaleX(0.8850);transform-origin:100% 0;">71.40</span>
<span class="t" style="right:373px;top:521px;font-size:13.8px;line-height:21px;transform:translateX(-0.49px) scaleX(0.8850);transform-origin:100% 0;">71.32</span>
<span class="t" style="right:319px;top:521px;font-size:13.8px;line-height:21px;transform:translateX(-0.69px) scaleX(0.8850);transform-origin:100% 0;">70.51</span>
<span class="t" style="right:270px;top:521px;font-size:13.8px;line-height:21px;transform:translateX(-0.09px) scaleX(0.8850);transform-origin:100% 0;">71.31</span>
<span class="t" style="right:220px;top:521px;font-size:13.8px;line-height:21px;transform:translateX(-0.89px) scaleX(0.8850);transform-origin:100% 0;">71.16</span>
<span class="t" style="right:172px;top:521px;font-size:13.8px;line-height:21px;transform:translateX(-0.29px) scaleX(0.8850);transform-origin:100% 0;">70.42</span>
<span class="t" style="right:121px;top:521px;font-size:13.8px;line-height:21px;transform:translateX(-0.89px) scaleX(0.8850);transform-origin:100% 0;">70.87</span>
<span class="t" style="right:72px;top:521px;font-size:13.8px;line-height:21px;transform:translateX(-0.89px) scaleX(0.8850);transform-origin:100% 0;">71.46</span>
<span class="t" style="left:800px;top:243px;font-size:13.8px;line-height:21px;transform:translateX(0.20px) scaleX(0.8789);transform-origin:0 0;text-decoration:underline;text-decoration-thickness:1px;text-underline-offset:0px;text-decoration-skip-ink:none;">Available with a </span>
<span class="t" style="left:775px;top:259px;font-size:13.8px;line-height:21px;transform:translateX(0.43px) scaleX(0.9157);transform-origin:0 0;text-decoration:underline;text-decoration-thickness:1px;text-underline-offset:1px;text-decoration-skip-ink:none;">subscription to the Steel </span>
<span class="t" style="left:806px;top:277px;font-size:13.8px;line-height:21px;transform:translateX(0.57px) scaleX(0.9071);transform-origin:0 0;">Cost Service</span>
<span class="t" style="left:16px;top:558px;font-size:13.8px;line-height:21px;transform:translateX(0.50px) scaleX(0.9213);transform-origin:0 0;">Data: CRU, OE.  Notes: (1) - Nominal prices.</span>
<span class="t" style="left:276px;top:558px;font-size:13.8px;line-height:21px;transform:translateX(0.97px) scaleX(0.9090);transform-origin:0 0;">(2) - FOB US Midwest Mill.</span>
<span class="t" style="left:433px;top:558px;font-size:13.8px;line-height:21px;transform:translateX(0.05px) scaleX(0.9318);transform-origin:0 0;">(3) - From parity point.</span>
<span class="t" style="left:568px;top:558px;font-size:13.8px;line-height:21px;transform:translateX(0.57px) scaleX(0.9151);transform-origin:0 0;">(4) - ex-Shanghai warehouse inclusive of 13% sales tax.</span>
<span class="t" style="left:893px;top:558px;font-size:13.8px;line-height:21px;transform:translateX(0.22px) scaleX(0.9746);transform-origin:0 0;">(5) - CFR</span>
<span class="t" style="left:16px;top:575px;font-size:13.8px;line-height:21px;transform:translateX(0.50px) scaleX(0.9121);transform-origin:0 0;">East &amp; Southeast Asian port.</span>
<span class="t" style="left:186px;top:575px;font-size:13.8px;line-height:21px;transform:translateX(0.67px) scaleX(0.9079);transform-origin:0 0;">(6) - Sourced from CRU&#x27;s Steel Cost Model and Steel Cost Review.</span>
</div>
</body></html>
